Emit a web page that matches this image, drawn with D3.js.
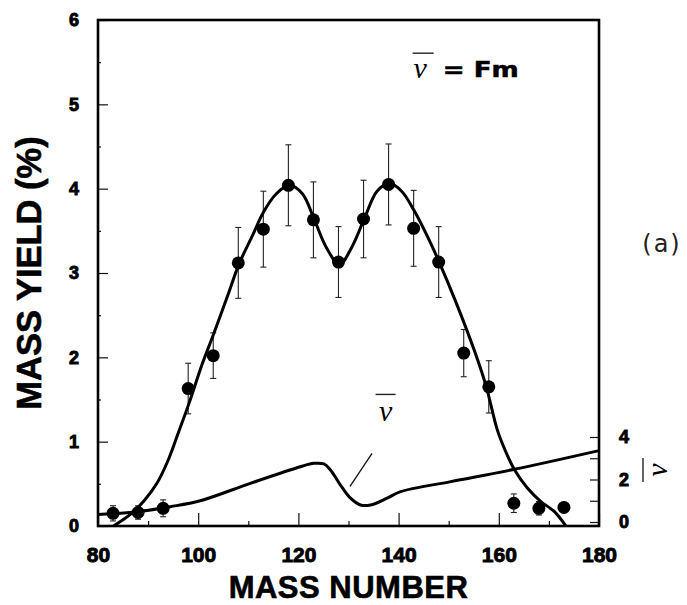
<!DOCTYPE html>
<html>
<head>
<meta charset="utf-8">
<script src="https://cdnjs.cloudflare.com/ajax/libs/d3/7.8.5/d3.min.js"></script>
<style>
  body { margin: 0; background: #fff; }
  svg text { font-family: "Liberation Sans", Arial, sans-serif; }
</style>
</head>
<body>
<div id="chart"></div>
<script>
// measured yields: mass number, yield (%), error bar half-height
var massNumbers = [83, 88, 93, 98, 103, 108, 113, 118, 123, 128, 133, 138, 143, 148, 153, 158, 163, 168, 173];
var massYields = [0.15, 0.16, 0.21, 1.63, 2.02, 3.12, 3.52, 4.04, 3.63, 3.13, 3.64, 4.05, 3.53, 3.13, 2.05, 1.65, 0.27, 0.21, 0.22];
var yieldErrors = [0.09, 0.08, 0.1, 0.3, 0.27, 0.42, 0.45, 0.48, 0.45, 0.42, 0.46, 0.48, 0.45, 0.42, 0.28, 0.31, 0.11, 0.08, 0.06];

// smooth curve drawn through the yields
var fitMass = [83.1, 86.7, 89.2, 91.7, 94, 96, 98.2, 100.8, 103.1, 106, 108.1, 110.8, 113.1, 115.6, 118.2, 120.8, 123.2, 125.6, 128.2, 130.6, 133.2, 135.7, 138.2, 140.6, 143.1, 145.7, 148.1, 151.4, 155.3, 157.5, 159.7, 161.4, 163.1, 165.7, 168.4, 171.1, 173.4];
var fitYield = [0, 0.15, 0.3, 0.5, 0.78, 1.1, 1.46, 1.92, 2.28, 2.75, 3.1, 3.44, 3.73, 3.94, 4.04, 3.94, 3.63, 3.3, 3.1, 3.3, 3.65, 3.97, 4.06, 3.97, 3.74, 3.44, 3.13, 2.66, 2.05, 1.65, 1.14, 0.88, 0.67, 0.45, 0.29, 0.17, 0];

// nu-bar curve, read on the right hand axis
var nuMass = [80, 87.7, 94.4, 100.4, 110.4, 120.4, 123.1, 125.1, 126.4, 128.4, 130.4, 132.4, 134.4, 137.7, 140.4, 150.4, 163.1, 180];
var nuValues = [0.35, 0.48, 0.72, 1.0, 1.82, 2.6, 2.76, 2.73, 2.45, 1.74, 1.12, 0.8, 0.8, 1.12, 1.43, 1.9, 2.48, 3.36];

// tick values
var xTicks = [80, 100, 120, 140, 160, 180];
var xMinorTicks = [90, 110, 130, 150, 170];
var yTicks = [0, 1, 2, 3, 4, 5, 6];
var yMinorTicks = [0.5, 1.5, 2.5, 3.5, 4.5, 5.5];
var nuTicks = [0, 1, 2, 3, 4];

var svgWidth = 687;
var svgHeight = 605;

var svg = d3.select("#chart")
  .append("svg")
  .attr("width", svgWidth)
  .attr("height", svgHeight);

var x = d3.scaleLinear().domain([80, 180]).range([98, 599]);
var y = d3.scaleLinear().domain([0, 6]).range([526, 20]);
var yNu = d3.scaleLinear().domain([0, 4]).range([522, 437]);

// helper to style an axis group (heavy labels like the scanned original)
function styleAxis(g, size) {
  g.attr("font-family", "'Liberation Sans', Arial, sans-serif")
    .attr("font-weight", "bold")
    .attr("font-size", size);
  g.select(".domain").remove();
  g.selectAll(".tick line").attr("stroke", "#111").attr("stroke-width", 1.2);
  g.selectAll("text")
    .attr("fill", "#000")
    .attr("stroke", "#000")
    .attr("stroke-width", 0.9)
    .style("font-weight", "bold")
    .style("font-size", size + "px");
}

// left axis
svg.append("g")
  .attr("transform", `translate(${x(80)},0)`)
  .call(d3.axisLeft(y).tickValues(yTicks).tickSize(-10).tickPadding(19).tickFormat(d3.format("d")))
  .call(styleAxis, 18);
svg.append("g")
  .attr("transform", `translate(${x(80)},0)`)
  .call(d3.axisLeft(y).tickValues(yMinorTicks).tickSize(-3).tickFormat(""))
  .call(styleAxis, 18);

// bottom axis
svg.append("g")
  .attr("transform", `translate(0,${y(0)})`)
  .call(d3.axisBottom(x).tickValues(xTicks).tickSize(-13).tickPadding(21).tickFormat(d3.format("d")))
  .call(styleAxis, 21);
svg.append("g")
  .attr("transform", `translate(0,${y(0)})`)
  .call(d3.axisBottom(x).tickValues(xMinorTicks).tickSize(-5).tickFormat(""))
  .call(styleAxis, 21);

// right axis (nu-bar)
svg.append("g")
  .attr("transform", `translate(${x(180)},0)`)
  .call(d3.axisRight(yNu).tickValues(nuTicks).tickSize(-9).tickPadding(20)
    .tickFormat(d => d % 2 === 0 ? d : ""))
  .call(styleAxis, 18);

// frame
svg.append("rect")
  .attr("x", x(80))
  .attr("y", y(6))
  .attr("width", x(180) - x(80))
  .attr("height", y(0) - y(6))
  .attr("fill", "none")
  .attr("stroke", "#000")
  .attr("stroke-width", 2.6);

// axis titles
svg.append("text")
  .attr("x", (x(80) + x(180)) / 2)
  .attr("y", 598)
  .attr("text-anchor", "middle")
  .attr("stroke", "#000")
  .attr("stroke-width", 0.6)
  .style("font-weight", "bold")
  .style("font-size", "31px")
  .style("letter-spacing", "0.5px")
  .text("MASS NUMBER");

svg.append("text")
  .attr("transform", `translate(41,${(y(0) + y(6)) / 2}) rotate(-90)`)
  .attr("text-anchor", "middle")
  .attr("stroke", "#000")
  .attr("stroke-width", 0.6)
  .style("font-weight", "bold")
  .style("font-size", "34.5px")
  .text("MASS YIELD (%)");

// right axis title: rotated nu-bar
var nuTitle = svg.append("g")
  .attr("transform", "translate(667,470) rotate(-90)");
nuTitle.append("text")
  .attr("text-anchor", "middle")
  .style("font-family", "'Liberation Serif', serif")
  .style("font-style", "italic")
  .style("font-size", "30px")
  .text("\u03BD");
nuTitle.append("line")
  .attr("x1", -12).attr("x2", 12)
  .attr("y1", -24).attr("y2", -24)
  .attr("stroke", "#222").attr("stroke-width", 1.4);

// error bars
var points = massNumbers.map((m, i) => ({ m: m, v: massYields[i], e: yieldErrors[i] }));

var bars = svg.append("g").attr("stroke", "#222").attr("stroke-width", 1.1);
points.forEach(function(d) {
  bars.append("line")
    .attr("x1", x(d.m)).attr("x2", x(d.m))
    .attr("y1", y(d.v - d.e)).attr("y2", y(d.v + d.e));
  [d.v - d.e, d.v + d.e].forEach(function(v) {
    bars.append("line")
      .attr("x1", x(d.m) - 3).attr("x2", x(d.m) + 3)
      .attr("y1", y(v)).attr("y2", y(v));
  });
});

// curves
var fitLine = d3.line()
  .x((d, i) => x(fitMass[i]))
  .y(d => y(d))
  .curve(d3.curveCatmullRom.alpha(0.5));

svg.append("path")
  .attr("d", fitLine(fitYield))
  .attr("fill", "none")
  .attr("stroke", "#000")
  .attr("stroke-width", 3);

var nuLine = d3.line()
  .x((d, i) => x(nuMass[i]))
  .y(d => yNu(d))
  .curve(d3.curveCatmullRom.alpha(0.5));

svg.append("path")
  .attr("d", nuLine(nuValues))
  .attr("fill", "none")
  .attr("stroke", "#000")
  .attr("stroke-width", 3);

// data points
svg.append("g")
  .selectAll("circle")
  .data(points)
  .enter()
  .append("circle")
  .attr("cx", d => x(d.m))
  .attr("cy", d => y(d.v))
  .attr("r", 6.5)
  .attr("fill", "#000");

// nu-bar label with pointer
svg.append("line")
  .attr("x1", x(134.7)).attr("y1", y(0.86))
  .attr("x2", x(130.3)).attr("y2", y(0.47))
  .attr("stroke", "#111")
  .attr("stroke-width", 1.3);

svg.append("text")
  .attr("x", x(137.4))
  .attr("y", y(1.24))
  .attr("text-anchor", "middle")
  .style("font-family", "'Liberation Serif', serif")
  .style("font-style", "italic")
  .style("font-size", "30px")
  .text("\u03BD");
svg.append("line")
  .attr("x1", x(135.4)).attr("x2", x(139.4))
  .attr("y1", y(1.24) - 27).attr("y2", y(1.24) - 27)
  .attr("stroke", "#222").attr("stroke-width", 1.4);

// top label: nu-bar = Fm
svg.append("text")
  .attr("x", x(144.3))
  .attr("y", y(5.31))
  .attr("text-anchor", "middle")
  .style("font-family", "'Liberation Serif', serif")
  .style("font-style", "italic")
  .style("font-size", "30px")
  .text("\u03BD");
svg.append("line")
  .attr("x1", x(142.8)).attr("x2", x(147))
  .attr("y1", y(5.31) - 25).attr("y2", y(5.31) - 25)
  .attr("stroke", "#222").attr("stroke-width", 1.4);

svg.append("text")
  .attr("x", x(148.8))
  .attr("y", y(5.31) - 1)
  .attr("textLength", 76)
  .attr("lengthAdjust", "spacingAndGlyphs")
  .attr("stroke", "#000")
  .attr("stroke-width", 0.5)
  .style("font-family", "'DejaVu Sans', sans-serif")
  .style("font-weight", "bold")
  .style("font-size", "21px")
  .text("= Fm");

// panel label
svg.append("text")
  .attr("x", 662)
  .attr("y", 252)
  .attr("text-anchor", "middle")
  .style("font-family", "'DejaVu Sans', sans-serif")
  .style("font-size", "24px")
  .style("letter-spacing", "2px")
  .attr("fill", "#222")
  .text("(a)");
</script>
</body>
</html>
